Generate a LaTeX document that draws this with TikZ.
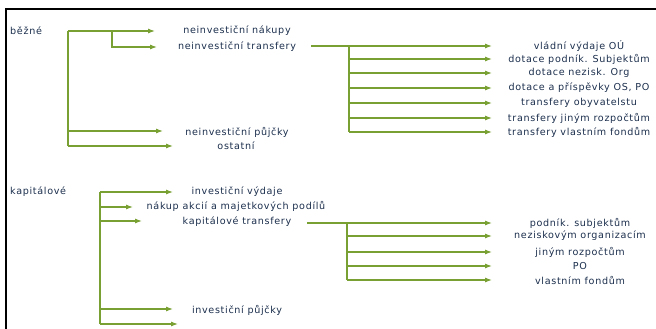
\documentclass[tikz,border=0pt]{standalone}
\usepackage{fontspec}
\setmainfont{DejaVu Sans}[LetterSpace=7]
\usetikzlibrary{arrows.meta}
\definecolor{treegreen}{HTML}{78A032}
\definecolor{textnavy}{HTML}{1B2E4C}
\tikzset{item/.style={text=textnavy,font=\fontsize{9.6}{11}\selectfont,inner sep=1pt},
 cat/.style={item,anchor=west},
 arr/.style={-{Latex[length=7pt,width=5pt]},draw=treegreen,line width=1.1pt},
 trunk/.style={draw=treegreen,line width=1.8pt}}

\begin{document}
\begin{tikzpicture}[x=1pt,y=-1pt]
\useasboundingbox (0,0) rectangle (656,329);
\draw[line width=2.8pt,line cap=rect] (6,329) -- (6,9) -- (656,9);
% bezne
\node[cat] (bezne) at (9,31) {běžné};
\node[item] (nakupy) at (237,31) {neinvestiční nákupy};
\node[item] (ntransfery) at (237,47) {neinvestiční transfery};
\node[item] (npujcky) at (237,132) {neinvestiční půjčky};
\node[item] (ostatni) at (236,146) {ostatní};
\coordinate (bz) at (68,31);
\coordinate (bzb) at (68,146);
\coordinate (bzn) at (112,31);
\coordinate (nakupy-in) at (155,31);
\coordinate (ntransfery-in) at (157,47);
\coordinate (npujcky-in) at (163,131);
\coordinate (ostatni-in) at (173,146);
\draw[trunk] (bz) -- (bzb);
\draw[arr] (bz) -- (nakupy-in);
\draw[arr] (bzn) |- (ntransfery-in);
\draw[arr] (bz |- npujcky-in) -- (npujcky-in);
\draw[arr] (bzb) -- (ostatni-in);
% neinvesticni transfery
\node[item] (vladni) at (579,46) {vládní výdaje OÚ};
\node[item] (podnik) at (579,59) {dotace podník. Subjektům};
\node[item] (nezisk) at (579,73) {dotace nezisk. Org};
\node[item] (prisp) at (579,88) {dotace a příspěvky OS, PO};
\node[item] (obyv) at (579,103) {transfery obyvatelstu};
\node[item] (jinym) at (579,118) {transfery jiným rozpočtům};
\node[item] (fondum) at (579,132) {transfery vlastním fondům};
\coordinate (nt) at (349,46);
\coordinate (nt-tip) at (492,46);
\draw[arr] ([xshift=14pt]ntransfery.east |- nt) -- (nt-tip);
\draw[trunk,line width=1.5pt] (nt) -- (nt |- fondum);
\draw[arr] (nt |- podnik) -- (nt-tip |- podnik);
\draw[arr] (nt |- nezisk) -- (nt-tip |- nezisk);
\draw[arr] (nt |- prisp) -- (nt-tip |- prisp);
\draw[arr] (nt |- obyv) -- (nt-tip |- obyv);
\draw[arr] (nt |- jinym) -- (nt-tip |- jinym);
\draw[arr] (nt |- fondum) -- (nt-tip |- fondum);
% kapitalove
\node[cat] (kapitalove) at (9,192) {kapitálové};
\node[item] (vydaje) at (237,192) {investiční výdaje};
\node[item] (akcie) at (236,206) {nákup akcií a majetkových podílů};
\node[item] (ktransfery) at (237,222) {kapitálové transfery};
\node[item] (ipujcky) at (237,310) {investiční půjčky};
\coordinate (kp) at (100,192);
\coordinate (kpb) at (100,324);
\coordinate (vydaje-in) at (173,192);
\coordinate (akcie-in) at (133,207);
\coordinate (ktransfery-in) at (142,221);
\coordinate (ipujcky-in) at (173,309);
\coordinate (kend-in) at (178,324);
\draw[trunk] (kp) -- (kpb);
\draw[arr] (kp) -- (vydaje-in);
\draw[arr] (kp |- akcie-in) -- (akcie-in);
\draw[arr] (kp |- ktransfery-in) -- (ktransfery-in);
\draw[arr] (kp |- ipujcky-in) -- (ipujcky-in);
\draw[arr] (kpb) -- (kend-in);
% kapitalove transfery
\node[item] (ksubj) at (580,223) {podník. subjektům};
\node[item] (korg) at (580,236) {neziskovým organizacím};
\node[item] (krozp) at (580,252) {jiným rozpočtům};
\node[item] (kpo) at (580,266) {PO};
\node[item] (kfond) at (580,280) {vlastním fondům};
\coordinate (kt) at (347,223);
\coordinate (kt-tip) at (492,223);
\draw[arr] ([xshift=15pt]ktransfery.east |- kt) -- (kt-tip);
\draw[trunk,line width=1.5pt] (kt) -- (kt |- kfond);
\draw[arr] (kt |- korg) -- (kt-tip |- korg);
\draw[arr] (kt |- krozp) -- (kt-tip |- krozp);
\draw[arr] (kt |- kpo) -- (kt-tip |- kpo);
\draw[arr] (kt |- kfond) -- (kt-tip |- kfond);
\end{tikzpicture}
\end{document}
